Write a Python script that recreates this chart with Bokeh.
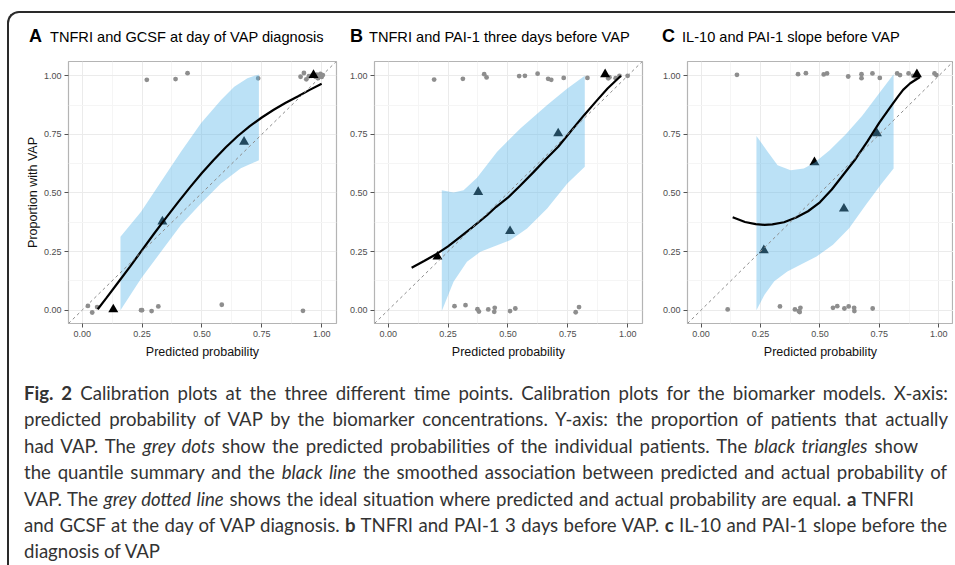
from bokeh.plotting import figure
from bokeh.models import FixedTicker, NumeralTickFormatter, Slope, Div
from bokeh.layouts import row, column
from bokeh.embed import file_html
from bokeh.resources import INLINE

# ---------------- data ----------------
TICKS = [0.0, 0.25, 0.5, 0.75, 1.0]
MINOR_TICKS = [0.125, 0.375, 0.625, 0.875]

# Panel A
A_letter = "A"
A_title = "TNFRI and GCSF at day of VAP diagnosis"
A_dot_x = [0.27, 0.39, 0.44, 0.735, 0.912, 0.926, 0.936, 0.947, 0.957, 0.975, 0.98, 0.985,
           0.99, 0.995, 1.0, 1.005, 0.024, 0.042, 0.0625, 0.246, 0.25, 0.29, 0.318, 0.583, 0.922]
A_dot_y = [0.983, 0.986, 1.011, 0.989, 0.996, 1.012, 0.985, 0.998, 1.0, 0.995, 1.005, 0.99,
           1.0, 1.008, 0.995, 1.003, 0.018, -0.01, 0.013, 0.0, 0.0, -0.004, 0.016, 0.023, -0.003]
A_tri_x = [0.13, 0.335, 0.676, 0.966]
A_tri_y = [0.003, 0.378, 0.718, 1.003]
A_line_x = [0.065, 0.1, 0.15, 0.2, 0.25, 0.3, 0.35, 0.4, 0.45, 0.5, 0.55, 0.6, 0.65, 0.7,
            0.75, 0.8, 0.85, 0.9, 0.95, 1.0]
A_line_y = [0.004, 0.05, 0.118, 0.186, 0.256, 0.326, 0.394, 0.46, 0.524, 0.585, 0.642, 0.695,
            0.743, 0.785, 0.822, 0.855, 0.885, 0.912, 0.94, 0.966]
A_up_x = [0.16, 0.246, 0.329, 0.4125, 0.496, 0.579, 0.635, 0.69, 0.738]
A_up_y = [0.313, 0.42, 0.548, 0.676, 0.797, 0.896, 0.953, 0.99, 1.006]
A_lo_x = [0.16, 0.246, 0.329, 0.4125, 0.496, 0.579, 0.6625, 0.738]
A_lo_y = [0.0, 0.135, 0.249, 0.363, 0.455, 0.54, 0.605, 0.64]

# Panel B
B_letter = "B"
B_title = "TNFRI and PAI-1 three days before VAP"
B_dot_x = [0.192, 0.312, 0.401, 0.411, 0.547, 0.571, 0.624, 0.668, 0.681, 0.733, 0.832,
           0.919, 0.924, 0.95, 0.966, 1.0, 0.277, 0.323, 0.373, 0.379, 0.418, 0.445, 0.443,
           0.509, 0.531, 0.783, 0.797]
B_dot_y = [0.984, 0.987, 1.007, 0.993, 0.999, 1.0, 1.009, 0.987, 0.983, 0.991, 0.991,
           0.989, 0.994, 0.99, 1.0, 1.0, 0.017, 0.021, 0.004, -0.006, 0.003, 0.01, -0.007,
           -0.004, 0.007, -0.009, 0.013]
B_tri_x = [0.206, 0.376, 0.509, 0.71, 0.906]
B_tri_y = [0.228, 0.504, 0.337, 0.754, 1.006]
B_line_x = [0.098, 0.15, 0.206, 0.25, 0.301, 0.35, 0.413, 0.45, 0.501, 0.55, 0.608, 0.65,
            0.71, 0.76, 0.818, 0.87, 0.916, 0.972]
B_line_y = [0.181, 0.21, 0.242, 0.272, 0.313, 0.352, 0.405, 0.44, 0.481, 0.53, 0.59, 0.635,
            0.697, 0.76, 0.832, 0.893, 0.946, 1.0]
B_up_x = [0.224, 0.273, 0.315, 0.371, 0.455, 0.552, 0.664, 0.748, 0.821]
B_up_y = [0.512, 0.502, 0.512, 0.565, 0.676, 0.775, 0.875, 0.946, 1.0]
B_lo_x = [0.224, 0.273, 0.329, 0.385, 0.455, 0.511, 0.58, 0.664, 0.748, 0.821]
B_lo_y = [-0.004, 0.121, 0.206, 0.249, 0.277, 0.299, 0.348, 0.434, 0.54, 0.612]

# Panel C
C_letter = "C"
C_title = "IL-10 and PAI-1 slope before VAP"
C_dot_x = [0.151, 0.408, 0.441, 0.516, 0.53, 0.619, 0.675, 0.675, 0.721, 0.752, 0.825,
           0.837, 0.873, 0.892, 0.9, 0.982, 0.99, 0.112, 0.332, 0.395, 0.411, 0.418, 0.415,
           0.555, 0.573, 0.603, 0.621, 0.644, 0.645, 0.722]
C_dot_y = [1.004, 1.007, 1.011, 1.006, 1.01, 0.997, 1.007, 0.99, 1.01, 0.991, 1.01,
           1.003, 1.01, 1.0, 0.997, 1.01, 1.003, 0.003, 0.016, 0.003, -0.004, 0.01, -0.008,
           0.01, 0.017, 0.007, 0.016, 0.01, -0.004, 0.007]
C_tri_x = [0.264, 0.477, 0.601, 0.74, 0.908]
C_tri_y = [0.255, 0.631, 0.433, 0.754, 1.006]
C_line_x = [0.133, 0.185, 0.23, 0.267, 0.3, 0.349, 0.4, 0.45, 0.5, 0.55, 0.6, 0.65, 0.7,
            0.75, 0.8, 0.829, 0.85, 0.88, 0.921]
C_line_y = [0.396, 0.376, 0.367, 0.364, 0.366, 0.375, 0.395, 0.422, 0.46, 0.515, 0.58, 0.645,
            0.72, 0.8, 0.872, 0.912, 0.94, 0.968, 0.995]
C_up_x = [0.233, 0.281, 0.322, 0.377, 0.432, 0.477, 0.541, 0.61, 0.678, 0.747, 0.81]
C_up_y = [0.743, 0.675, 0.618, 0.597, 0.604, 0.629, 0.682, 0.752, 0.83, 0.922, 1.007]
C_lo_x = [0.233, 0.267, 0.308, 0.363, 0.418, 0.486, 0.555, 0.623, 0.692, 0.76, 0.81]
C_lo_y = [0.0, 0.066, 0.123, 0.165, 0.194, 0.229, 0.279, 0.349, 0.448, 0.54, 0.604]

X_LABEL = "Predicted probability"
Y_LABEL = "Proportion with VAP"

CAPTION_LINES = [
    '<b>Fig. 2</b> Calibration plots at the three different time points. Calibration plots for the biomarker models. X-axis:',
    'predicted probability of VAP by the biomarker concentrations. Y-axis: the proportion of patients that actually',
    'had VAP. The <i>grey dots</i> show the predicted probabilities of the individual patients. The <i>black triangles</i> show',
    'the quantile summary and the <i>black line</i> the smoothed association between predicted and actual probability of',
    'VAP. The <i>grey dotted line</i> shows the ideal situation where predicted and actual probability are equal. <b>a</b> TNFRI',
    'and GCSF at the day of VAP diagnosis. <b>b</b> TNFRI and PAI-1 3 days before VAP. <b>c</b> IL-10 and PAI-1 slope before the',
    'diagnosis of VAP',
]
# right end of each caption line in the reference (px from the text start)
CAPTION_WIDTHS = [924, 924, 894, 923, 890, 923, None]

FONT = "Liberation Sans"


def make_panel(dx, dy, tx, ty, lx, ly, ux, uy, wx, wy, bl, fw, br, ylabel):
    p = figure(frame_width=fw, frame_height=262,
               min_border_left=bl, min_border_right=br,
               min_border_top=5, min_border_bottom=52,
               x_range=(-0.057, 1.062), y_range=(-0.057, 1.061),
               output_backend="svg", toolbar_location=None, title_location=None,
               background_fill_color="white", border_fill_color="white")
    p.outline_line_color = "#B4B4B4"
    p.outline_line_width = 1.2
    for ax in (p.xaxis[0], p.yaxis[0]):
        ax.ticker = FixedTicker(ticks=TICKS, minor_ticks=MINOR_TICKS)
        ax.formatter = NumeralTickFormatter(format="0.00")
        ax.axis_line_color = None
        ax.major_tick_out = 4
        ax.major_tick_in = 0
        ax.major_tick_line_color = "#555555"
        ax.minor_tick_line_color = None
        ax.major_label_text_font = FONT
        ax.major_label_text_font_size = "9px"
        ax.major_label_text_color = "#4D4D4D"
        ax.major_label_standoff = 3
        ax.axis_label_text_font = FONT
        ax.axis_label_text_font_size = "12.5px"
        ax.axis_label_text_font_style = "normal"
        ax.axis_label_text_color = "#111111"
    p.xaxis.axis_label = X_LABEL
    p.xaxis.axis_label_standoff = 5
    if ylabel:
        p.yaxis.axis_label = ylabel
        p.yaxis.axis_label_standoff = 1
    for g in (p.xgrid[0], p.ygrid[0]):
        g.grid_line_color = "#EBEBEB"
        g.grid_line_width = 1
        g.minor_grid_line_color = "#F5F5F5"

    p.add_layout(Slope(gradient=1, y_intercept=0, line_color="#8C8C8C",
                       line_dash="3 3", line_width=1))
    p.scatter(dx, dy, size=4.8, color="#8E8E8E", line_color=None)
    p.scatter(tx, ty, marker="triangle", size=10, color="black", line_color=None)
    p.patch(ux + wx[::-1], uy + wy[::-1], fill_color="#56B4E9", fill_alpha=0.4,
            line_color=None)
    p.line(lx, ly, line_color="black", line_width=2.2)
    return p


pA = make_panel(A_dot_x, A_dot_y, A_tri_x, A_tri_y, A_line_x, A_line_y,
                A_up_x, A_up_y, A_lo_x, A_lo_y, 59, 268, 10, Y_LABEL)
pB = make_panel(B_dot_x, B_dot_y, B_tri_x, B_tri_y, B_line_x, B_line_y,
                B_up_x, B_up_y, B_lo_x, B_lo_y, 28, 268, 8, None)
pC = make_panel(C_dot_x, C_dot_y, C_tri_x, C_tri_y, C_line_x, C_line_y,
                C_up_x, C_up_y, C_lo_x, C_lo_y, 37, 266, 0, None)


# panel titles (bold letter + title), positioned above each panel
def title_spans(letter, title, letter_left, title_left):
    return (f'<span style="position:absolute; left:{letter_left}px; top:8.8px; '
            f'font-family:\'Liberation Sans\'; font-weight:bold; font-size:18px; '
            f'line-height:1; color:#000;">{letter}</span>'
            f'<span style="position:absolute; left:{title_left}px; top:11.6px; '
            f'font-family:\'Liberation Sans\'; font-size:14.6px; line-height:1; '
            f'color:#000; white-space:nowrap;">{title}</span>')


title_html = ('<div style="position:relative; width:944px; height:33px;">'
              + title_spans(A_letter, A_title, 15, 36)
              + title_spans(B_letter, B_title, 336, 355)
              + title_spans(C_letter, C_title, 648, 668)
              + '</div>')
titles = Div(text=title_html, width=944, height=33)

line_divs = []
for txt, w in zip(CAPTION_LINES, CAPTION_WIDTHS):
    if w is None:
        line_divs.append(f'<div style="height:26.4px;">{txt}</div>')
    else:
        line_divs.append(f'<div style="width:{w}px; height:26.4px; text-align:justify; '
                         f'text-align-last:justify;">{txt}</div>')
caption_html = ('<div style="font-family: Lato, \'Open Sans\', sans-serif; font-size: 18.6px; '
                'line-height: 26.4px; color: #333333; padding-left: 10px;">'
                + "".join(line_divs) + '</div>')
caption = Div(text=caption_html, width=944, height=188)

layout = column(titles, row(pA, pB, pC), caption,
                styles={"border-top": "2px solid #2a2a2a",
                        "border-left": "2px solid #2a2a2a",
                        "border-top-left-radius": "12px",
                        "margin-top": "11px",
                        "margin-left": "7px"})

html = file_html(layout, INLINE, title="Calibration plots")
open("out.html", "w").write(html)
